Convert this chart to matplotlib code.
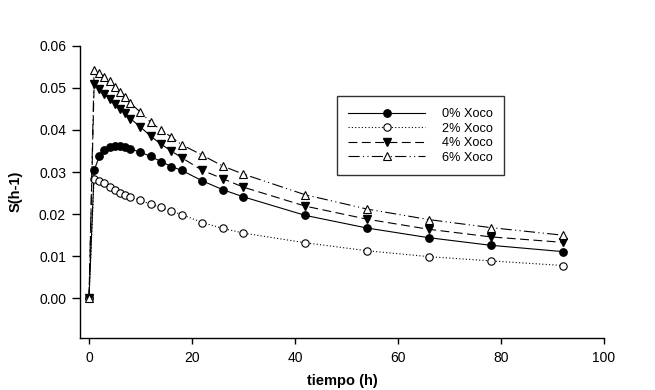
import matplotlib
matplotlib.use("Agg")
import matplotlib.pyplot as plt

plt.rcParams['font.family'] = ['Liberation Sans', 'DejaVu Sans']

# tiempo (h)
tiempo = [0, 1, 2, 3, 4, 5, 6, 7, 8, 10, 12, 14, 16, 18, 22, 26, 30, 42, 54, 66, 78, 92]

# S (h-1) por formulacion
xoco_0 = [0, 0.0304, 0.0337, 0.0353, 0.0359, 0.0361, 0.0361, 0.0359, 0.0355, 0.0347, 0.0337,
          0.0325, 0.0313, 0.0304, 0.0279, 0.0258, 0.0241, 0.0197, 0.0167, 0.0144, 0.0126, 0.0111]
xoco_2 = [0, 0.0284, 0.0278, 0.0273, 0.0264, 0.0258, 0.0251, 0.0245, 0.0241, 0.0233, 0.0223,
          0.0216, 0.0207, 0.0199, 0.0180, 0.0166, 0.0155, 0.0132, 0.0113, 0.0099, 0.0089, 0.0078]
xoco_4 = [0, 0.0509, 0.0498, 0.0486, 0.0474, 0.0462, 0.0450, 0.0440, 0.0427, 0.0407, 0.0385,
          0.0366, 0.0350, 0.0334, 0.0304, 0.0284, 0.0264, 0.0219, 0.0188, 0.0164, 0.0146, 0.0133]
xoco_6 = [0, 0.0543, 0.0535, 0.0525, 0.0516, 0.0501, 0.0490, 0.0478, 0.0464, 0.0442, 0.0418,
          0.0400, 0.0383, 0.0365, 0.0340, 0.0314, 0.0295, 0.0246, 0.0212, 0.0187, 0.0168, 0.0150]

labels = ['0% Xoco', '2% Xoco', '4% Xoco', '6% Xoco']
x_ticks = [0, 20, 40, 60, 80, 100]
y_ticks = [0.00, 0.01, 0.02, 0.03, 0.04, 0.05, 0.06]

fig = plt.figure(figsize=(6.55, 3.9), dpi=100)
ax = fig.add_axes([0.1221, 0.1346, 0.800, 0.7482])

lw = 0.8
ms = 5.3
ax.plot(tiempo, xoco_0, color='black', lw=lw, ls='-', marker='o', ms=ms,
        mfc='black', mec='black', label=labels[0])
ax.plot(tiempo, xoco_2, color='black', lw=lw, ls=(0, (1, 2)), marker='o', ms=ms,
        mfc='white', mec='black', mew=0.8, label=labels[1])
ax.plot(tiempo, xoco_4, color='black', lw=lw, ls=(0, (8, 4)), marker='v', ms=ms + 1,
        mfc='black', mec='black', label=labels[2])
ax.plot(tiempo, xoco_6, color='black', lw=lw, ls=(0, (10, 3, 1, 3, 1, 3)), marker='^', ms=ms + 1,
        mfc='white', mec='black', mew=0.8, label=labels[3])

ax.set_xlim(-1.75, 100)
ax.set_ylim(-0.0093, 0.06)
ax.set_xticks(x_ticks)
ax.set_yticks(y_ticks)
ax.set_yticklabels([f'{v:.2f}' for v in y_ticks])
ax.tick_params(axis='both', labelsize=10, direction='out', width=1)
ax.tick_params(axis='y', length=6, pad=4)
ax.tick_params(axis='x', length=4, pad=6)

for side in ['top', 'right']:
    ax.spines[side].set_visible(False)
for side in ['left', 'bottom']:
    ax.spines[side].set_linewidth(1)
ax.spines['left'].set_bounds(-0.0093, 0.06)

ax.set_xlabel('tiempo (h)', fontsize=10.5, fontweight='bold', labelpad=6)
ax.set_ylabel('S(h-1)', fontsize=10.5, fontweight='bold', labelpad=12)

leg = ax.legend(loc='upper left', bbox_to_anchor=(0.49, 0.826), fontsize=9.2,
                frameon=True, fancybox=False, edgecolor='black', handlelength=6.0,
                handletextpad=1.3, borderpad=0.9, labelspacing=0.2, borderaxespad=0)
leg.get_frame().set_linewidth(1)

fig.savefig('out.png', dpi=100)
